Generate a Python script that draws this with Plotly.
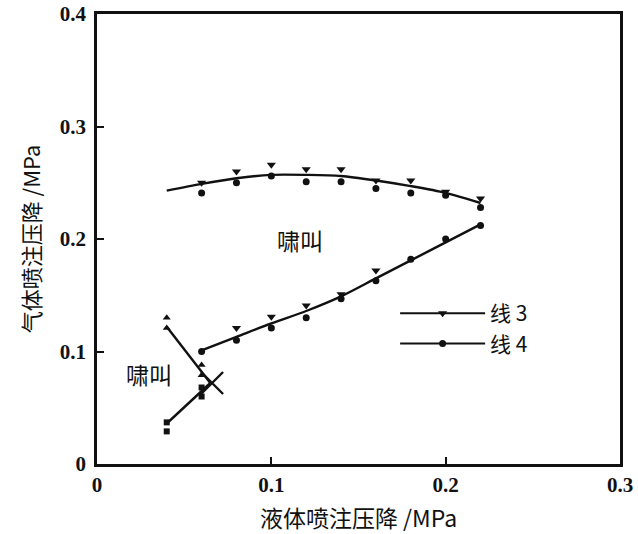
import plotly.graph_objects as go

# ---- data ----
top_line_x = [0.04, 0.06, 0.08, 0.10, 0.12, 0.14, 0.16, 0.18, 0.20, 0.22]
top_line_y = [0.243, 0.249, 0.254, 0.257, 0.257, 0.256, 0.252, 0.247, 0.241, 0.232]

bot_line_x = [0.06, 0.08, 0.10, 0.12, 0.14, 0.16, 0.18, 0.20, 0.22]
bot_line_y = [0.101, 0.113, 0.125, 0.136, 0.149, 0.165, 0.181, 0.197, 0.213]

top_x = [0.06, 0.08, 0.10, 0.12, 0.14, 0.16, 0.18, 0.20, 0.22]
top_line3 = [0.250, 0.260, 0.266, 0.262, 0.262, 0.252, 0.252, 0.242, 0.236]
top_line4 = [0.241, 0.250, 0.256, 0.251, 0.251, 0.245, 0.241, 0.239, 0.228]

bot3_x = [0.08, 0.10, 0.12, 0.14, 0.16]
bot_line3 = [0.121, 0.131, 0.141, 0.151, 0.172]
bot4_x = [0.06, 0.08, 0.10, 0.12, 0.14, 0.16, 0.18, 0.20, 0.22]
bot_line4 = [0.100, 0.110, 0.121, 0.130, 0.147, 0.163, 0.182, 0.200, 0.212]

desc_line_x = [0.04, 0.065]
desc_line_y = [0.122, 0.072]
desc_pts_x = [0.04, 0.04, 0.06, 0.06]
desc_pts_y = [0.130, 0.121, 0.088, 0.079]

asc_line_x = [0.04, 0.065]
asc_line_y = [0.036, 0.072]
asc_pts_x = [0.04, 0.04, 0.06, 0.06]
asc_pts_y = [0.037, 0.029, 0.068, 0.060]

cross_x = [0.066]
cross_y = [0.072]

x_ticks = [0, 0.1, 0.2, 0.3]
x_tick_text = ["0", "0.1", "0.2", "0.3"]
y_ticks = [0, 0.1, 0.2, 0.3, 0.4]
y_tick_text = ["0", "0.1", "0.2", "0.3", "0.4"]

label_whistle = "啸叫"
x_title = "液体喷注压降 /MPa"
y_title = "气体喷注压降 /MPa"
legend_names = ["线 3", "线 4"]

# ---- figure ----
BLACK = "#111111"
fig = go.Figure()

def line_trace(x, y, smooth=False):
    return go.Scatter(x=x, y=y, mode="lines", showlegend=False, hoverinfo="skip",
                      line=dict(color=BLACK, width=2.4, shape="spline" if smooth else "linear",
                                smoothing=0.8))

fig.add_trace(line_trace(top_line_x, top_line_y, True))
fig.add_trace(line_trace(bot_line_x, bot_line_y, True))
fig.add_trace(line_trace(desc_line_x, desc_line_y))
fig.add_trace(line_trace(asc_line_x, asc_line_y))

m3 = dict(symbol="triangle-down", size=8, color=BLACK)
m4 = dict(symbol="circle", size=7, color=BLACK)

fig.add_trace(go.Scatter(x=top_x, y=top_line3, mode="markers", marker=m3, showlegend=False))
fig.add_trace(go.Scatter(x=bot3_x, y=bot_line3, mode="markers", marker=m3, showlegend=False))
fig.add_trace(go.Scatter(x=top_x, y=top_line4, mode="markers", marker=m4, showlegend=False))
fig.add_trace(go.Scatter(x=bot4_x, y=bot_line4, mode="markers", marker=m4, showlegend=False))
fig.add_trace(go.Scatter(x=desc_pts_x, y=desc_pts_y, mode="markers", showlegend=False,
                         marker=dict(symbol="triangle-up", size=7, color=BLACK)))
fig.add_trace(go.Scatter(x=asc_pts_x, y=asc_pts_y, mode="markers", showlegend=False,
                         marker=dict(symbol="square", size=6, color=BLACK)))
fig.add_trace(go.Scatter(x=cross_x, y=cross_y, mode="markers", showlegend=False,
                         marker=dict(symbol="x-thin-open", size=22, color=BLACK,
                                     line=dict(color=BLACK, width=2.4))))

# legend entries
fig.add_trace(go.Scatter(x=[None], y=[None], mode="lines+markers", name=legend_names[0],
                         marker=m3, line=dict(color=BLACK, width=2)))
fig.add_trace(go.Scatter(x=[None], y=[None], mode="lines+markers", name=legend_names[1],
                         marker=m4, line=dict(color=BLACK, width=2)))

cjk = "Noto Sans CJK SC"
serif = "Liberation Serif"

fig.add_annotation(x=0.1165, y=0.199, text=label_whistle, showarrow=False,
                   font=dict(family=cjk, size=23, color=BLACK))
fig.add_annotation(x=0.030, y=0.080, text=label_whistle, showarrow=False,
                   font=dict(family=cjk, size=23, color=BLACK))

axis_common = dict(showline=True, linecolor=BLACK, linewidth=2.5, mirror=True,
                   ticks="inside", ticklen=7, tickwidth=2, tickcolor=BLACK,
                   showgrid=False, zeroline=False, automargin=False,
                   ticklabeloverflow="allow",
                   tickfont=dict(family=serif, size=21, color=BLACK, weight="bold"))

fig.update_xaxes(range=[0, 0.3], tickvals=x_ticks, ticktext=x_tick_text,
                 title=dict(text=x_title, font=dict(family=f"{cjk}, {serif}", size=23, color=BLACK),
                            standoff=15),
                 **axis_common)
fig.update_yaxes(range=[0, 0.4], tickvals=y_ticks, ticktext=y_tick_text, ticklabelstandoff=4,
                 title=dict(text=y_title, font=dict(family=f"{cjk}, {serif}", size=22, color=BLACK),
                            standoff=14),
                 **axis_common)

fig.update_layout(
    template="none",
    width=638, height=534,
    margin=dict(l=97, r=18, t=14, b=70),
    plot_bgcolor="white", paper_bgcolor="white",
    showlegend=True,
    legend=dict(x=0.57, y=0.38, xanchor="left", yanchor="top",
                bgcolor="rgba(0,0,0,0)", itemwidth=85, tracegroupgap=0,
                font=dict(family=cjk, size=21, color=BLACK)),
)

fig.write_html("out.html", config={"displayModeBar": False},
               post_script="document.body.style.margin='0';document.body.style.overflow='hidden';")
